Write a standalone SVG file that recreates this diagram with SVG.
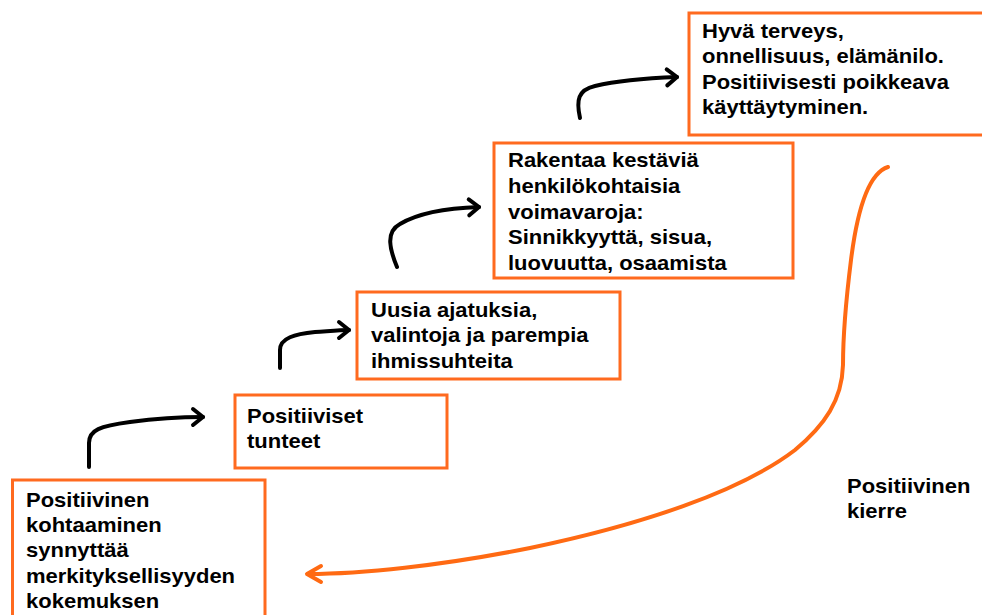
<svg xmlns="http://www.w3.org/2000/svg" width="982" height="615" viewBox="0 0 982 615">
<style>
.box{fill:#fff;stroke:#FF6A1F;stroke-width:3}
.t{font-family:"Liberation Sans",Arial,sans-serif;font-weight:bold;font-size:20px;fill:#000}
.blk{fill:none;stroke:#000;stroke-width:4;stroke-linecap:round;stroke-linejoin:round}
.org{fill:none;stroke:#FF6A13;stroke-width:4;stroke-linecap:round;stroke-linejoin:round}
</style>
<defs>
<marker id="ah" markerUnits="userSpaceOnUse" markerWidth="30" markerHeight="30" refX="0" refY="0" viewBox="-15 -15 30 30" orient="auto" overflow="visible">
<path d="M-10,-8 L0,0 L-10,8" fill="none" stroke="#000" stroke-width="4" stroke-linecap="round" stroke-linejoin="round"/>
</marker>
</defs>
<rect width="982" height="615" fill="#fff"/>
<g id="connectors">
<path class="blk" d="M89,467 L89,443 C89,430 100,426 130,422 C160,418 185,417 203,417" marker-end="url(#ah)"/>
<path class="blk" d="M280,368 L280,350 C280,338 295,334 315,332 C330,331 340,330 349,330" marker-end="url(#ah)"/>
<path class="blk" d="M397,267 C390,250 385,232 400,224 C420,212 450,208 479,207" marker-end="url(#ah)"/>
<path class="blk" d="M580,118 C576,100 578,90 595,86 C620,80 650,78 677,77" marker-end="url(#ah)"/>
<path class="org" d="M888,167 C866,174 856,220 851,260 C846,300 843,330 843,365 C842,400 825,425 795,450 C740,492 640,525 530,548 C440,566 360,574 308,574"/>
<polyline class="org" points="321,566 307,574 321,582"/>
</g>
<g id="n1">
<rect class="box" x="12.5" y="480" width="252.5" height="140"/>
<text class="t" transform="translate(26,506.5) scale(1.1,1)"><tspan x="0">Positiivinen</tspan><tspan x="0" dy="25.4">kohtaaminen</tspan><tspan x="0" dy="25.4">synnyttää</tspan><tspan x="0" dy="25.4">merkityksellisyyden</tspan><tspan x="0" dy="25.4">kokemuksen</tspan></text>
</g>
<g id="n2">
<rect class="box" x="235" y="395" width="212" height="73"/>
<text class="t" transform="translate(247,423) scale(1.1,1)"><tspan x="0">Positiiviset</tspan><tspan x="0" dy="25">tunteet</tspan></text>
</g>
<g id="n3">
<rect class="box" x="357" y="292" width="263" height="87"/>
<text class="t" transform="translate(371,317) scale(1.1,1)"><tspan x="0">Uusia ajatuksia,</tspan><tspan x="0" dy="25.5">valintoja ja parempia</tspan><tspan x="0" dy="25.5">ihmissuhteita</tspan></text>
</g>
<g id="n4">
<rect class="box" x="494" y="143" width="299" height="135"/>
<text class="t" transform="translate(508,167) scale(1.1,1)"><tspan x="0">Rakentaa kestäviä</tspan><tspan x="0" dy="25.8">henkilökohtaisia</tspan><tspan x="0" dy="25.8">voimavaroja:</tspan><tspan x="0" dy="25.8">Sinnikkyyttä, sisua,</tspan><tspan x="0" dy="25.8">luovuutta, osaamista</tspan></text>
</g>
<g id="n5">
<rect class="box" x="689" y="13" width="300" height="122"/>
<text class="t" transform="translate(702,38) scale(1.1,1)"><tspan x="0">Hyvä terveys,</tspan><tspan x="0" dy="25.5">onnellisuus, elämänilo.</tspan><tspan x="0" dy="25.5">Positiivisesti poikkeava</tspan><tspan x="0" dy="25.5">käyttäytyminen.</tspan></text>
</g>
<g id="label">
<text class="t" transform="translate(847,493) scale(1.1,1)"><tspan x="0">Positiivinen</tspan><tspan x="0" dy="25">kierre</tspan></text>
</g>
</svg>
